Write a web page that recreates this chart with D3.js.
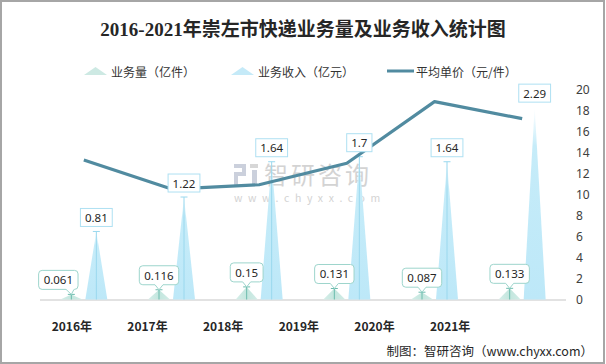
<!DOCTYPE html>
<html><head><meta charset="utf-8">
<script src="https://cdn.jsdelivr.net/npm/d3@7/dist/d3.min.js"></script>
<style>
html,body{margin:0;padding:0;background:#fff;}
svg{display:block;}
text{font-family:"Noto Sans CJK SC","Noto Sans",sans-serif;}
</style></head>
<body>
<svg id="c" width="606" height="364"></svg>
<script>
const years = ["2016年","2017年","2018年","2019年","2020年","2021年"];
const volume = [0.061, 0.116, 0.15, 0.131, 0.087, 0.133];      // 业务量（亿件）
const revenue = [0.81, 1.22, 1.64, 1.7, 1.64, 2.29];           // 业务收入（亿元）
const unitPrice = [13.28, 10.52, 10.93, 12.98, 18.85, 17.22];   // 平均单价（元/件）
const rightTicks = [0,2,4,6,8,10,12,14,16,18,20];
const legendNames = ["业务量（亿件）","业务收入（亿元）","平均单价（元/件）"];
const titleText = "2016-2021年崇左市快递业务量及业务收入统计图";
const footerText = "制图：智研咨询（www.chyxx.com）";

const svg = d3.select("#c");
const W = 606, H = 364;
const y0 = 299.5, yTop = 89.5;

// frame
svg.append("rect").attr("x",1).attr("y",1).attr("width",W-3).attr("height",H-2)
  .attr("fill","#fff").attr("stroke","#a6a6a6").attr("stroke-width",2);

const defs = svg.append("defs");
const g1 = defs.append("linearGradient").attr("id","gRev").attr("x1",0).attr("y1",0).attr("x2",0).attr("y2",1);
g1.append("stop").attr("offset","0%").attr("stop-color","#e6f6fc").attr("stop-opacity",0.1);
g1.append("stop").attr("offset","9%").attr("stop-color","#d5f1fb").attr("stop-opacity",0.6);
g1.append("stop").attr("offset","20%").attr("stop-color","#c6ecf9");
g1.append("stop").attr("offset","100%").attr("stop-color","#bde8f8");
const g2 = defs.append("linearGradient").attr("id","gVol").attr("x1",0).attr("y1",0).attr("x2",1).attr("y2",0);
g2.append("stop").attr("offset","0%").attr("stop-color","#d6eee9");
g2.append("stop").attr("offset","50%").attr("stop-color","#c3e6de");
g2.append("stop").attr("offset","100%").attr("stop-color","#d3ece7");

// title
svg.append("text").attr("x",303).attr("y",29).attr("text-anchor","middle")
  .attr("dominant-baseline","central").attr("font-size",19).attr("font-weight","bold")
  .attr("fill","#262626").style("font-family","'Liberation Serif','Noto Sans CJK SC',serif")
  .text(titleText);

// scales
const x = d3.scaleBand().domain(years).range([40,566]);
const xLab = d3.scaleBand().domain(years).range([34,488]);
const yL = d3.scaleLinear().domain([0,2.5]).range([y0,yTop]);
const yR = d3.scaleLinear().domain([0,20]).range([y0,yTop]);
const off = 12.5, hw = 11;

// watermark
const wm = svg.append("g").attr("opacity",0.9);
wm.append("rect").attr("x",234).attr("y",164).attr("width",12).attr("height",4).attr("fill","#c6ccd9");
wm.append("rect").attr("x",242).attr("y",164).attr("width",4).attr("height",12).attr("fill","#c6ccd9");
wm.append("rect").attr("x",234).attr("y",172).attr("width",12).attr("height",4).attr("fill","#c6ccd9");
wm.append("rect").attr("x",234).attr("y",172).attr("width",4).attr("height",13).attr("fill","#c6ccd9");
wm.append("rect").attr("x",250).attr("y",164).attr("width",8).attr("height",4).attr("fill","#d3d3d3");
wm.append("rect").attr("x",252).attr("y",170).attr("width",5).attr("height",15).attr("fill","#c6ccd9");
wm.append("text").attr("x",264).attr("y",173).attr("dominant-baseline","central")
  .attr("font-size",24).attr("letter-spacing","3").attr("fill","#cfcfcf").text("智研咨询");
wm.append("text").attr("x",234).attr("y",197).attr("dominant-baseline","central")
  .attr("font-size",10.5).attr("letter-spacing","5.6").attr("fill","#cfcfcf").text("www.chyxx.com");

// baseline
svg.append("line").attr("x1",40).attr("x2",566).attr("y1",300).attr("y2",300)
  .attr("stroke","#d9d9d9").attr("stroke-width",1.5);

// triangles
const tri = (cx, v, sc) => `M${cx-hw},${y0}L${cx},${sc(v)}L${cx+hw},${y0}Z`;
svg.append("g").selectAll("path").data(volume).join("path")
  .attr("d",(d,i)=>tri(x(years[i])+x.bandwidth()/2-off, d, yL)).attr("fill","url(#gVol)");
svg.append("g").selectAll("path").data(revenue).join("path")
  .attr("d",(d,i)=>tri(x(years[i])+x.bandwidth()/2+off, d, yL)).attr("fill","url(#gRev)");

// leader lines
function leader(cx, top, col){
  svg.append("line").attr("x1",cx).attr("x2",cx).attr("y1",top).attr("y2",y0).attr("stroke",col).attr("stroke-width",1);
  svg.append("line").attr("x1",cx-3.5).attr("x2",cx+3.5).attr("y1",top).attr("y2",top).attr("stroke",col).attr("stroke-width",1);
}
volume.forEach((d,i)=>leader(x(years[i])+x.bandwidth()/2-off, yL(d), "#6cbcae"));
revenue.forEach((d,i)=>{ if(i<5) leader(x(years[i])+x.bandwidth()/2+off, yL(d), "#9ad8ee"); });

// line
svg.append("path").datum(unitPrice)
  .attr("d", d3.line().x((d,i)=>x(years[i])+x.bandwidth()/2).y(d=>yR(d)))
  .attr("fill","none").attr("stroke","#518ba0").attr("stroke-width",3.2).attr("stroke-linejoin","round");

// revenue labels
revenue.forEach((d,i)=>{
  const cx = x(years[i])+x.bandwidth()/2+off;
  const top = yL(d);
  const g = svg.append("g");
  const t = g.append("text").attr("x",cx).attr("y",top-14).attr("text-anchor","middle")
    .attr("dominant-baseline","central").attr("font-size",11.5).attr("fill","#262626")
    .style("font-family","'Noto Sans','Noto Sans CJK SC',sans-serif").text(d);
  const w = t.node().getComputedTextLength()+9;
  g.insert("rect","text").attr("x",cx-w/2).attr("y",top-23).attr("width",w).attr("height",18)
    .attr("fill","#fff").attr("stroke","#aee0f2").attr("stroke-width",1);
});

// volume callouts
volume.forEach((d,i)=>{
  const bx = x(years[i])+x.bandwidth()/2-off;
  const cap = yL(d);
  const cx = bx + (i===0 ? -13 : 0);
  const bottom = cap-5, h = 19, topY = bottom-h;
  const g = svg.append("g");
  const t = g.append("text").attr("x",cx).attr("y",topY+h/2).attr("text-anchor","middle")
    .attr("dominant-baseline","central").attr("font-size",11.5).attr("fill","#262626")
    .style("font-family","'Noto Sans','Noto Sans CJK SC',sans-serif").text(d);
  const w = t.node().getComputedTextLength()+10;
  const l = cx-w/2, r = cx+w/2, rr = 3.5;
  const tx = Math.max(l+8, Math.min(r-8, bx));
  const p = d3.path();
  p.moveTo(l+rr, topY); p.lineTo(r-rr, topY); p.quadraticCurveTo(r, topY, r, topY+rr);
  p.lineTo(r, bottom-rr); p.quadraticCurveTo(r, bottom, r-rr, bottom);
  p.lineTo(tx+4, bottom); p.lineTo(bx, cap); p.lineTo(tx-4, bottom);
  p.lineTo(l+rr, bottom); p.quadraticCurveTo(l, bottom, l, bottom-rr);
  p.lineTo(l, topY+rr); p.quadraticCurveTo(l, topY, l+rr, topY); p.closePath();
  g.insert("path","text").attr("d",p.toString()).attr("fill","#fff").attr("stroke","#9dd5cc").attr("stroke-width",1);
});

// right axis
const ra = svg.append("g").attr("transform","translate(574,0)")
  .call(d3.axisRight(yR).tickValues(rightTicks).tickSize(0).tickPadding(2).tickFormat(d3.format("d")));
ra.select(".domain").remove();
ra.selectAll("text").attr("font-size",12).attr("fill","#404040")
  .style("font-family","'Noto Sans','Noto Sans CJK SC',sans-serif");

// x axis labels
const xa = svg.append("g").attr("transform","translate(0,314)")
  .call(d3.axisBottom(xLab).tickSize(0).tickPadding(8));
xa.select(".domain").remove();
xa.selectAll("text").attr("font-size",12).attr("font-weight","bold").attr("fill","#262626")
  .style("font-family","'Noto Sans CJK SC',sans-serif");

// legend
const lg = svg.append("g");
[[84,"#cde9e3"],[231,"#c5eaf8"]].forEach(([lx,c],i)=>{
  lg.append("path").attr("d",`M${lx},75L${lx+11.5},67L${lx+23},75Z`).attr("fill",c);
  lg.append("text").attr("x",lx+27).attr("y",71).attr("dominant-baseline","central")
    .attr("font-size",12).attr("fill","#333").text(legendNames[i]);
});
lg.append("line").attr("x1",387).attr("x2",414).attr("y1",71).attr("y2",71).attr("stroke","#518ba0").attr("stroke-width",3);
lg.append("text").attr("x",416).attr("y",71).attr("dominant-baseline","central")
  .attr("font-size",12).attr("fill","#333").text(legendNames[2]);

// footer
svg.append("text").attr("x",593).attr("y",350).attr("text-anchor","end").attr("dominant-baseline","central")
  .attr("font-size",12.5).attr("fill","#262626").text(footerText);
</script>
</body></html>
